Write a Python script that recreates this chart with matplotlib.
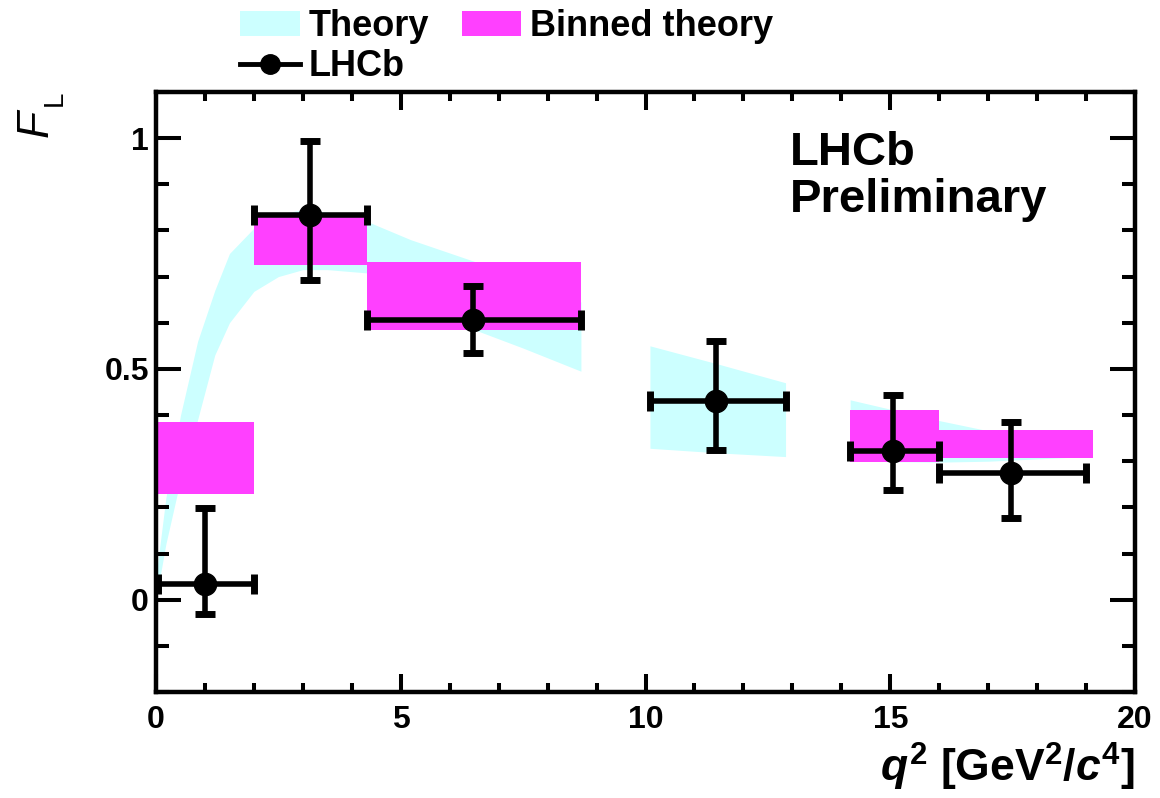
import numpy as np
import matplotlib
matplotlib.use("Agg")
import matplotlib.pyplot as plt
from matplotlib.lines import Line2D
from matplotlib.patches import Patch

plt.rcParams['font.family'] = ['Liberation Sans', 'DejaVu Sans']
plt.rcParams['font.weight'] = 'bold'
plt.rcParams['mathtext.fontset'] = 'custom'
plt.rcParams['mathtext.rm'] = 'Liberation Sans:bold'
plt.rcParams['mathtext.it'] = 'Liberation Sans:italic:bold'
plt.rcParams['mathtext.bf'] = 'Liberation Sans:bold'

# LHCb measurement
q2_lo = [0.05, 2.0, 4.3, 10.09, 14.18, 16.0]
q2_hi = [2.0, 4.3, 8.68, 12.86, 16.0, 19.0]
q2_pt = [1.0, 3.14, 6.48, 11.44, 15.05, 17.46]
fl = [0.033, 0.834, 0.605, 0.431, 0.323, 0.274]
fl_up = [0.165, 0.160, 0.075, 0.130, 0.120, 0.112]
fl_dn = [0.063, 0.141, 0.071, 0.106, 0.085, 0.098]

# binned theory
bin_lo = [0.0, 2.0, 4.3, 14.18, 16.0]
bin_hi = [2.0, 4.3, 8.68, 16.0, 19.15]
bin_min = [0.228, 0.724, 0.585, 0.299, 0.307]
bin_max = [0.385, 0.831, 0.731, 0.411, 0.367]

# theory band, three q2 regions
th_x1 = [0.0, 0.2, 0.5, 0.85, 1.2, 1.5, 2.0, 2.5, 3.0, 3.5, 4.3, 5.2, 6.5, 7.5, 8.68]
th_up1 = [0.05, 0.22, 0.40, 0.56, 0.67, 0.75, 0.805, 0.835, 0.845, 0.84, 0.82, 0.78, 0.733, 0.69, 0.645]
th_dn1 = [0.0, 0.12, 0.26, 0.39, 0.53, 0.60, 0.668, 0.70, 0.715, 0.715, 0.708, 0.65, 0.585, 0.545, 0.495]
th_x2 = [10.09, 11.5, 12.86]
th_up2 = [0.55, 0.51, 0.47]
th_dn2 = [0.328, 0.318, 0.31]
th_x3 = [14.18, 16.0, 17.0, 19.0]
th_up3 = [0.433, 0.388, 0.366, 0.345]
th_dn3 = [0.30, 0.298, 0.30, 0.31]

cyan = "#ccffff"
magenta = "#ff40ff"

fig = plt.figure(figsize=(11.6, 7.98), dpi=100)
ax = fig.add_axes([0.1345, 0.1328, 0.844, 0.752])

#theory band
for xs, lo, hi in [(th_x1, th_dn1, th_up1), (th_x2, th_dn2, th_up2), (th_x3, th_dn3, th_up3)]:
    ax.fill_between(xs, lo, hi, color=cyan, lw=0, zorder=1)

#binned theory boxes
ax.bar(bin_lo, np.subtract(bin_max, bin_min), width=np.subtract(bin_hi, bin_lo),
       bottom=bin_min, align="edge", color=magenta, lw=0, zorder=2)

#data points
xerr = [np.subtract(q2_pt, q2_lo), np.subtract(q2_hi, q2_pt)]
ax.errorbar(q2_pt, fl, xerr=xerr, yerr=[fl_dn, fl_up], fmt="o", color="k", ms=16,
            elinewidth=4, capsize=7, capthick=5, zorder=5)

ax.set_xlim(0, 20)
ax.set_ylim(-0.2, 1.1)
ax.set_xticks([0, 5, 10, 15, 20])
ax.set_xticklabels(["0", "5", "10", "15", "20"])
ax.set_xticks(np.arange(0, 21, 1), minor=True)
ax.set_yticks([0, 0.5, 1])
ax.set_yticklabels(["0", "0.5", "1"])
ax.set_yticks(np.arange(-0.2, 1.11, 0.1), minor=True)
ax.tick_params(which="both", direction="in", top=True, right=True, width=2.9)
ax.tick_params(axis="x", which="major", length=13, labelsize=23, pad=9)
ax.tick_params(axis="x", which="minor", length=6.5)
ax.tick_params(axis="y", which="major", length=18, labelsize=23, pad=5)
ax.tick_params(axis="y", which="minor", length=9.5)
for s in ax.spines.values():
    s.set_linewidth(3.2)

#axis titles
fig.text(0.978, 1 - 782 / 798, r"$q^{2}$ [GeV$^{2}$/$c^{4}$]", fontsize=32,
         ha="right", va="baseline")
fig.text(57 / 1160, 1 - 137 / 798, "F", fontsize=32, fontweight="normal",
         fontstyle="italic", rotation=90, ha="right", va="bottom")
fig.text(68 / 1160, 1 - 106 / 798, "L", fontsize=20, fontweight="normal",
         rotation=90, ha="right", va="bottom")

#labels
fig.text(790 / 1160, 1 - 165 / 798, "LHCb", fontsize=34, ha="left", va="baseline")
fig.text(790 / 1160, 1 - 212 / 798, "Preliminary", fontsize=34, ha="left", va="baseline")

#legend
h_theory = Patch(facecolor=cyan, edgecolor="none")
h_binned = Patch(facecolor=magenta, edgecolor="none")
h_lhcb = Line2D([], [], color="k", lw=3.5, marker="o", ms=14)
fig.legend([h_theory, h_lhcb, h_binned], ["Theory", "LHCb", "Binned theory"], ncol=2,
           loc="upper left", bbox_to_anchor=(240 / 1160, 1 - 9 / 798), frameon=False,
           fontsize=26, handlelength=1.65, handleheight=0.7, handletextpad=0.25,
           columnspacing=0.9, labelspacing=0.15, borderpad=0, borderaxespad=0)

fig.savefig("out.png", dpi=100)
